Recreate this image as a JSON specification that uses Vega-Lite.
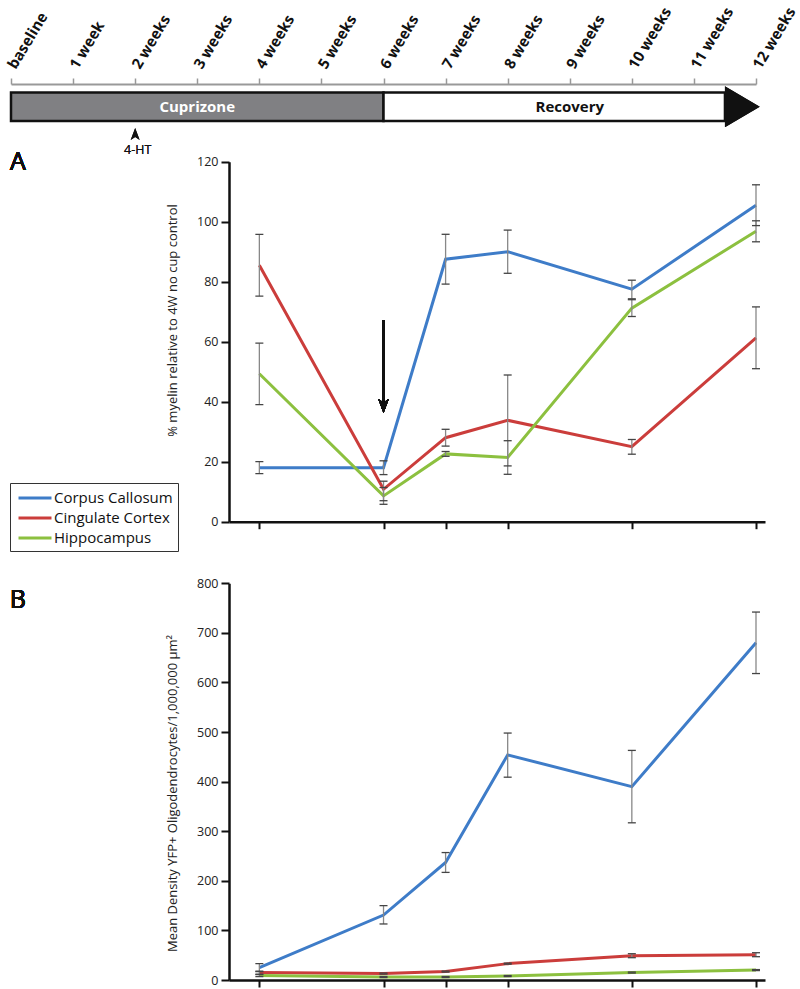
{
  "$schema": "https://vega.github.io/schema/vega-lite/v6.json",
  "width": 800,
  "height": 989,
  "autosize": {"type": "none"},
  "padding": 0,
  "background": "white",
  "config": {"view": {"stroke": null}, "font": "Open Sans", "axis": {"grid": false}},
  "datasets": {
    "phases": [
      {"phase": "Cuprizone", "start": 0, "end": 6},
      {"phase": "Recovery", "start": 6, "end": 11.5}
    ],
    "myelin": [
      {"region": "Corpus Callosum", "week": 4, "mean": 18, "lo": 16, "hi": 20},
      {"region": "Corpus Callosum", "week": 6, "mean": 18, "lo": 15.7, "hi": 20.3},
      {"region": "Corpus Callosum", "week": 7, "mean": 87.5, "lo": 79.2, "hi": 95.8},
      {"region": "Corpus Callosum", "week": 8, "mean": 90, "lo": 82.8, "hi": 97.2},
      {"region": "Corpus Callosum", "week": 10, "mean": 77.5, "lo": 74.3, "hi": 80.5},
      {"region": "Corpus Callosum", "week": 12, "mean": 105.5, "lo": 98.7, "hi": 112.3},
      {"region": "Cingulate Cortex", "week": 4, "mean": 85.5, "lo": 75.2, "hi": 95.8},
      {"region": "Cingulate Cortex", "week": 6, "mean": 10.8, "lo": 7, "hi": 13.5},
      {"region": "Cingulate Cortex", "week": 7, "mean": 28, "lo": 25.2, "hi": 30.8},
      {"region": "Cingulate Cortex", "week": 8, "mean": 33.8, "lo": 18.6, "hi": 48.9},
      {"region": "Cingulate Cortex", "week": 10, "mean": 25, "lo": 22.5, "hi": 27.4},
      {"region": "Cingulate Cortex", "week": 12, "mean": 61.3, "lo": 51, "hi": 71.6},
      {"region": "Hippocampus", "week": 4, "mean": 49.3, "lo": 39, "hi": 59.5},
      {"region": "Hippocampus", "week": 6, "mean": 8.6, "lo": 5.8, "hi": 11.4},
      {"region": "Hippocampus", "week": 7, "mean": 22.6, "lo": 21.8, "hi": 23.4},
      {"region": "Hippocampus", "week": 8, "mean": 21.4, "lo": 15.8, "hi": 27},
      {"region": "Hippocampus", "week": 10, "mean": 71.2, "lo": 68.4, "hi": 74},
      {"region": "Hippocampus", "week": 12, "mean": 96.8, "lo": 93.3, "hi": 100.3}
    ],
    "density": [
      {"region": "Corpus Callosum", "week": 4, "mean": 25, "lo": 17, "hi": 33},
      {"region": "Corpus Callosum", "week": 6, "mean": 131, "lo": 113, "hi": 150},
      {"region": "Corpus Callosum", "week": 7, "mean": 237, "lo": 217, "hi": 257},
      {"region": "Corpus Callosum", "week": 8, "mean": 454, "lo": 409, "hi": 498},
      {"region": "Corpus Callosum", "week": 10, "mean": 390, "lo": 317, "hi": 463},
      {"region": "Corpus Callosum", "week": 12, "mean": 680, "lo": 618, "hi": 742},
      {"region": "Cingulate Cortex", "week": 4, "mean": 15, "lo": 12, "hi": 18},
      {"region": "Cingulate Cortex", "week": 6, "mean": 13, "lo": 12, "hi": 14},
      {"region": "Cingulate Cortex", "week": 7, "mean": 17, "lo": 16, "hi": 18},
      {"region": "Cingulate Cortex", "week": 8, "mean": 33, "lo": 32, "hi": 34},
      {"region": "Cingulate Cortex", "week": 10, "mean": 49, "lo": 45, "hi": 53},
      {"region": "Cingulate Cortex", "week": 12, "mean": 51, "lo": 47, "hi": 55},
      {"region": "Hippocampus", "week": 4, "mean": 9, "lo": 7, "hi": 11},
      {"region": "Hippocampus", "week": 6, "mean": 6, "lo": 5, "hi": 7},
      {"region": "Hippocampus", "week": 7, "mean": 6, "lo": 5, "hi": 7},
      {"region": "Hippocampus", "week": 8, "mean": 8, "lo": 7, "hi": 9},
      {"region": "Hippocampus", "week": 10, "mean": 15, "lo": 14, "hi": 16},
      {"region": "Hippocampus", "week": 12, "mean": 20, "lo": 19, "hi": 21}
    ]
  },
  "layer": [
    {
      "data": {"name": "phases"},
      "layer": [
        {
          "transform": [{"filter": "datum.phase === 'Cuprizone'"}],
          "mark": {"type": "rect", "fill": "#808083", "stroke": "#111", "strokeWidth": 2.5},
          "encoding": {
            "x": {"field": "start", "type": "quantitative",
              "scale": {"domain": [0, 12], "range": [11, 756], "nice": false, "zero": false},
              "axis": {"orient": "top", "offset": -84, "values": [0,1,2,3,4,5,6,7,8,9,10,11,12],
                "labelExpr": "datum.value == 0 ? 'baseline' : datum.value == 1 ? '1 week' : datum.value + ' weeks'",
                "labelAngle": -59, "labelAlign": "left", "labelBaseline": "middle",
                "labelFontSize": 15, "labelFontWeight": "bold", "labelColor": "#111", "labelPadding": 11,
                "labelOverlap": false, "labelFlush": false, "labelBound": false,
                "domainColor": "#999", "domainWidth": 2, "tickColor": "#999", "tickWidth": 1.5, "tickSize": 6, "title": null}},
            "x2": {"field": "end"},
            "y": {"datum": 0, "type": "quantitative", "scale": {"domain": [0, 1], "range": [121, 92.5], "nice": false, "zero": false}, "axis": null},
            "y2": {"datum": 1}
          }
        },
        {
          "transform": [{"filter": "datum.phase === 'Recovery'"}],
          "mark": {"type": "rect", "fill": "white", "stroke": "#111", "strokeWidth": 2.5},
          "encoding": {
            "x": {"field": "start", "type": "quantitative"},
            "x2": {"field": "end"},
            "y": {"datum": 0, "type": "quantitative"},
            "y2": {"datum": 1}
          }
        },
        {
          "mark": {"type": "point", "shape": "M-0.85,-1L0.85,0L-0.85,1Z", "filled": true, "color": "#111", "opacity": 1, "size": 1681},
          "encoding": {"x": {"datum": 11.78, "type": "quantitative"}, "y": {"datum": 0.5, "type": "quantitative"}}
        },
        {
          "transform": [{"filter": "datum.phase === 'Cuprizone'"}],
          "mark": {"type": "text", "color": "white", "fontSize": 15, "fontWeight": "bold", "align": "center", "baseline": "middle"},
          "encoding": {"x": {"datum": 3, "type": "quantitative"}, "y": {"datum": 0.5, "type": "quantitative"}, "text": {"field": "phase"}}
        },
        {
          "transform": [{"filter": "datum.phase === 'Recovery'"}],
          "mark": {"type": "text", "color": "#111", "fontSize": 15, "fontWeight": "bold", "align": "center", "baseline": "middle"},
          "encoding": {"x": {"datum": 9, "type": "quantitative"}, "y": {"datum": 0.5, "type": "quantitative"}, "text": {"field": "phase"}}
        },
        {
          "mark": {"type": "point", "shape": "M-0.75,1L0,-1L0.75,1L0,0.5Z", "filled": true, "color": "#111", "opacity": 1, "size": 144},
          "encoding": {"x": {"datum": 2, "type": "quantitative"}, "y": {"datum": -0.456, "type": "quantitative"}}
        },
        {
          "mark": {"type": "text", "color": "#111", "fontSize": 12.5, "align": "center", "baseline": "middle", "text": "4-HT"},
          "encoding": {"x": {"datum": 2.04, "type": "quantitative"}, "y": {"datum": -1.02, "type": "quantitative"}}
        }
      ]
    },
    {
      "data": {"name": "myelin"},
      "layer": [
        {
          "mark": {"type": "line", "strokeWidth": 3},
          "encoding": {
            "x": {"field": "week", "type": "quantitative",
              "scale": {"domain": [3.511, 12.145], "range": [229, 765], "nice": false, "zero": false},
              "axis": {"orient": "bottom", "offset": -467.3, "values": [4,6,7,8,10,12], "labels": false, "title": null,
                "domainColor": "#111", "domainWidth": 2.5, "tickColor": "#111", "tickWidth": 2, "tickSize": 7}},
            "y": {"field": "mean", "type": "quantitative",
              "scale": {"domain": [0, 120], "range": [521.7, 161.7], "nice": false, "zero": false},
              "axis": {"orient": "left", "offset": -229, "values": [0,20,40,60,80,100,120],
                "title": "% myelin relative to 4W no cup control", "titleX": -50, "titleY": 320, "titleFontSize": 13, "titleFontWeight": "normal", "titleColor": "#222",
                "labelFontSize": 12.5, "labelColor": "#222", "labelPadding": 3, "labelFlush": false,
                "domainColor": "#111", "domainWidth": 2.5, "tickColor": "#111", "tickWidth": 2, "tickSize": 8}},
            "color": {"field": "region", "type": "nominal",
              "scale": {"domain": ["Corpus Callosum", "Cingulate Cortex", "Hippocampus"], "range": ["#3E7CC8", "#CB3D3B", "#8CC03F"]},
              "legend": {"orient": "none", "legendX": 10, "legendY": 483, "title": null, "symbolType": "M-2,0L2,0", "symbolSize": 272,
                "symbolStrokeWidth": 3, "symbolOffset": 10, "labelFontSize": 15, "labelColor": "#111", "strokeColor": "#333", "padding": 5, "rowPadding": 2, "labelOffset": 9}}
          }
        },
        {
          "mark": {"type": "rule", "color": "#888", "strokeWidth": 1.3},
          "encoding": {"x": {"field": "week", "type": "quantitative"}, "y": {"field": "lo", "type": "quantitative"}, "y2": {"field": "hi"}}
        },
        {
          "mark": {"type": "tick", "orient": "horizontal", "color": "#444", "size": 8, "thickness": 1.3, "opacity": 1},
          "encoding": {"x": {"field": "week", "type": "quantitative"}, "y": {"field": "lo", "type": "quantitative"}}
        },
        {
          "mark": {"type": "tick", "orient": "horizontal", "color": "#444", "size": 8, "thickness": 1.3, "opacity": 1},
          "encoding": {"x": {"field": "week", "type": "quantitative"}, "y": {"field": "hi", "type": "quantitative"}}
        },
        {
          "mark": {"type": "rule", "color": "#111", "strokeWidth": 1.8},
          "encoding": {"x": {"datum": 6, "type": "quantitative"}, "y": {"datum": 67.2, "type": "quantitative"}, "y2": {"datum": 39}}
        },
        {
          "mark": {"type": "point", "shape": "M-0.75,-1L0,1L0.75,-1L0,-0.5Z", "filled": true, "color": "#111", "opacity": 1, "size": 196},
          "encoding": {"x": {"datum": 6, "type": "quantitative"}, "y": {"datum": 38.6, "type": "quantitative"}}
        },
        {
          "mark": {"type": "text", "color": "#111", "fontSize": 25, "fontWeight": "normal", "align": "center", "baseline": "alphabetic", "text": "A"},
          "encoding": {"x": {"datum": 0.11, "type": "quantitative"}, "y": {"datum": 117.2, "type": "quantitative"}}
        }
      ]
    },
    {
      "data": {"name": "density"},
      "layer": [
        {
          "mark": {"type": "line", "strokeWidth": 3},
          "encoding": {
            "x": {"field": "week", "type": "quantitative",
              "scale": {"domain": [3.511, 12.145], "range": [229, 765], "nice": false, "zero": false},
              "axis": {"orient": "bottom", "offset": -9, "values": [4,6,7,8,10,12], "labels": false, "title": null,
                "domainColor": "#111", "domainWidth": 2.5, "tickColor": "#111", "tickWidth": 2, "tickSize": 7}},
            "y": {"field": "mean", "type": "quantitative",
              "scale": {"domain": [0, 800], "range": [980, 583.3], "nice": false, "zero": false},
              "axis": {"orient": "left", "offset": -229, "values": [0,100,200,300,400,500,600,700,800],
                "title": "Mean Density  YFP+ Oligodendrocytes/1,000,000 µm²", "titleX": -50, "titleY": 793, "titleFontSize": 13, "titleFontWeight": "normal", "titleColor": "#222",
                "labelFontSize": 12.5, "labelColor": "#222", "labelPadding": 3, "labelFlush": false,
                "domainColor": "#111", "domainWidth": 2.5, "tickColor": "#111", "tickWidth": 2, "tickSize": 8}},
            "color": {"field": "region", "type": "nominal",
              "scale": {"domain": ["Corpus Callosum", "Cingulate Cortex", "Hippocampus"], "range": ["#3E7CC8", "#CB3D3B", "#8CC03F"]},
              "legend": {"orient": "none", "legendX": 10, "legendY": 483, "title": null, "symbolType": "M-2,0L2,0", "symbolSize": 272,
                "symbolStrokeWidth": 3, "symbolOffset": 10, "labelFontSize": 15, "labelColor": "#111", "strokeColor": "#333", "padding": 5, "rowPadding": 2, "labelOffset": 9}}
          }
        },
        {
          "mark": {"type": "rule", "color": "#888", "strokeWidth": 1.3},
          "encoding": {"x": {"field": "week", "type": "quantitative"}, "y": {"field": "lo", "type": "quantitative"}, "y2": {"field": "hi"}}
        },
        {
          "mark": {"type": "tick", "orient": "horizontal", "color": "#444", "size": 8, "thickness": 1.3, "opacity": 1},
          "encoding": {"x": {"field": "week", "type": "quantitative"}, "y": {"field": "lo", "type": "quantitative"}}
        },
        {
          "mark": {"type": "tick", "orient": "horizontal", "color": "#444", "size": 8, "thickness": 1.3, "opacity": 1},
          "encoding": {"x": {"field": "week", "type": "quantitative"}, "y": {"field": "hi", "type": "quantitative"}}
        },
        {
          "mark": {"type": "text", "color": "#111", "fontSize": 25, "fontWeight": "normal", "align": "center", "baseline": "alphabetic", "text": "B"},
          "encoding": {"x": {"datum": 0.11, "type": "quantitative"}, "y": {"datum": 750, "type": "quantitative"}}
        }
      ]
    }
  ],
  "resolve": {"scale": {"x": "independent", "y": "independent"}, "axis": {"x": "independent", "y": "independent"}}
}
